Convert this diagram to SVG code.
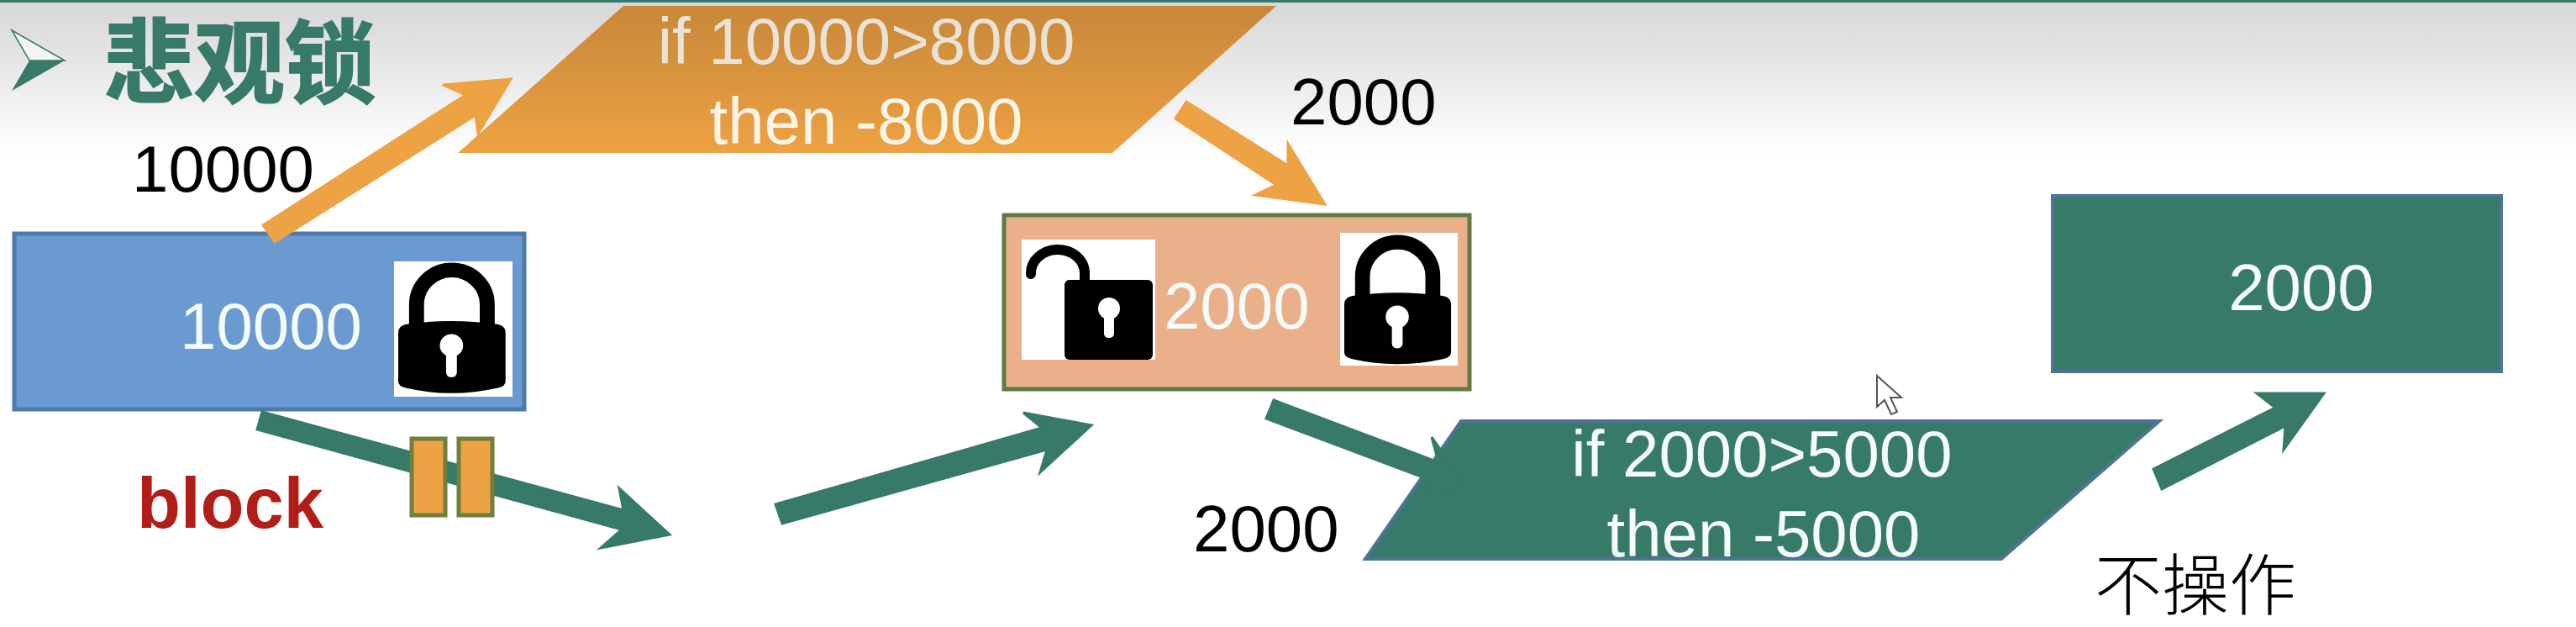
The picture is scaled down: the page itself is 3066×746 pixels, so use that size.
<svg xmlns="http://www.w3.org/2000/svg" xmlns:xlink="http://www.w3.org/1999/xlink" width="3066" height="746" viewBox="0 0 3066 746">
<style>
text{font-family:"Liberation Sans",Arial,sans-serif;font-size:78px}
.b{fill:#000}
.w{fill:#f4fbf8}
.cjk{font-family:"Noto Sans CJK SC","Noto Sans",sans-serif}
.teal{fill:#377a6a;stroke:#377a6a;stroke-width:3}
.or{fill:#eda243;stroke:#eda243;stroke-width:3}
.pause{fill:#eda243;stroke:#6f7f3c;stroke-width:5}
</style>
<defs>
<linearGradient id="bg" x1="0" y1="0" x2="0" y2="1"><stop offset="0" stop-color="#d6d6d6"/><stop offset="1" stop-color="#ffffff"/></linearGradient>
<linearGradient id="og" x1="0" y1="0" x2="0" y2="1"><stop offset="0" stop-color="#c8873a"/><stop offset="1" stop-color="#eda243"/></linearGradient>
<g id="lock">
<path d="M22 76V50A42.500 42.500 0 0 1 107 50V76" fill="none" stroke="#000" stroke-width="18"/>
<path d="M0 84Q0 76 10 74Q64 66 119 74Q129 76 129 84V144Q129 150 120 152Q64 165 9 152Q0 150 0 144Z" fill="#000"/>
<circle cx="64" cy="100" r="14" fill="#fff"/>
<rect x="57.500" y="100" width="13" height="39" rx="6" fill="#fff"/>
</g>
</defs>
<rect width="3066" height="746" fill="#fff"/>
<rect width="3066" height="186" fill="url(#bg)"/>
<rect width="3066" height="3" fill="#377a6a"/>
<g id="title">
<path d="M14 36L77 72H35Z" fill="#f4f4f4" stroke="#377a6a" stroke-width="1.500"/>
<path d="M14 108L77 72H35Z" fill="#377a6a"/>
<text x="123" y="114" class="cjk" font-weight="700" style="font-size:108px;stroke:#377a6a;stroke-width:2" fill="#377a6a">悲观锁</text>
</g>
<g id="node-check-1">
<polygon points="742,7 1519,7 1324,182 545,182" fill="url(#og)"/>
<text x="1031" y="76" text-anchor="middle" fill="#e8e3d6">if 10000&gt;8000</text>
<text x="1031" y="171" text-anchor="middle" fill="#fbf5e8">then -8000</text>
</g>
<g id="node-balance-1">
<rect x="17" y="278" width="607" height="209" fill="#6a9ad0" stroke="#4f79a8" stroke-width="5"/>
<text x="214" y="415" class="w">10000</text>
<rect x="469" y="311" width="141" height="161" fill="#fff"/>
<use xlink:href="#lock" href="#lock" transform="translate(474,314) scale(.99,.97)"/>
</g>
<g id="node-balance-2">
<rect x="1195" y="256" width="554" height="207" fill="#e9b08a" stroke="#5f7a45" stroke-width="5"/>
<rect x="1216" y="285" width="159" height="143" fill="#fff"/>
<path d="M1227 326A32 28 0 0 1 1291 324V336" fill="none" stroke="#000" stroke-width="12" stroke-linecap="round"/>
<rect x="1267" y="333" width="105" height="95" rx="6" fill="#000"/>
<circle cx="1320" cy="367" r="13" fill="#fff"/>
<rect x="1314" y="367" width="12" height="35" rx="5" fill="#fff"/>
<text x="1385" y="391" class="w">2000</text>
<rect x="1595" y="277" width="140" height="158" fill="#fff"/>
<use xlink:href="#lock" href="#lock" transform="translate(1600,281) scale(.985,.96)"/>
</g>
<g id="node-check-2">
<polygon points="1739,501 2570,501 2382,665 1625,665" fill="#377a6a" stroke="#4f7396" stroke-width="4"/>
<text x="2097" y="567" text-anchor="middle" class="w">if 2000&gt;5000</text>
<text x="2099" y="662" text-anchor="middle" class="w">then -5000</text>
</g>
<g id="node-balance-3">
<rect x="2443" y="233" width="534" height="209" fill="#377a6a" stroke="#4f7396" stroke-width="4"/>
<text x="2739" y="369" text-anchor="middle" class="w">2000</text>
</g>
<g id="connectors">
<polygon class="or" points="313,268 554,113 527,101 608,94 569,159 566,137 327,288"/>
<polygon class="or" points="1412,121 1533,197 1533,171 1577,243 1494,232 1519,220 1399,141"/>
<polygon class="teal" points="312,490 742,607 737,581 797,636 715,652 740,630 306,511"/>
<polygon class="teal" points="923,600 1240,509 1218,491 1299,506 1238,562 1246,535 931,623"/>
<polygon class="teal" points="1516,476 1712,550 1704,520 1745,578 1680,590 1702,571 1507,498"/>
<polygon class="teal" points="2563,558 2708,485 2686,468 2766,468 2718,535 2720,507 2573,582"/>
</g>
<g id="blocker">
<rect class="pause" x="490" y="522" width="40" height="91"/>
<rect class="pause" x="546" y="522" width="40" height="91"/>
</g>
<g id="labels">
<text x="157" y="228" class="b">10000</text>
<text x="163" y="628" font-weight="700" style="font-size:85px" fill="#b01e17">block</text>
<text x="1536" y="148" class="b">2000</text>
<text x="1420" y="656" class="b">2000</text>
<text x="2493" y="725" class="cjk b" style="font-size:80px;font-weight:300">不操作</text>
</g>
<path id="cursor" d="M2234 447V484L2243 476L2251 493L2258 490L2250 473L2263 473Z" fill="#fff" stroke="#555" stroke-width="2"/>
</svg>
